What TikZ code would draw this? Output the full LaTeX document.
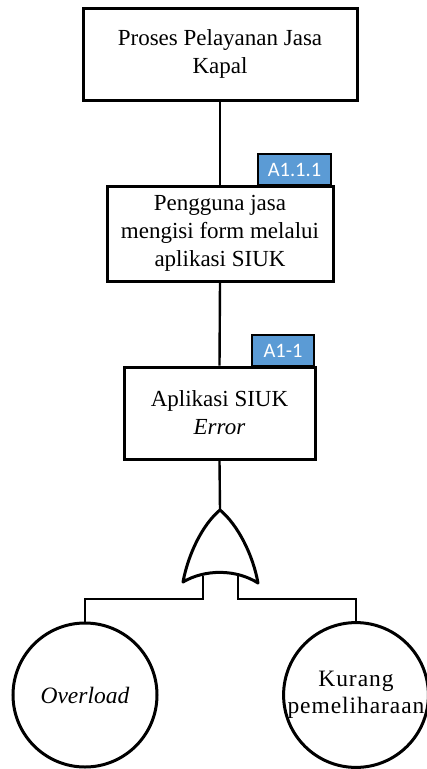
\documentclass[tikz,border=0pt]{standalone}
\usepackage{fontspec}
\setmainfont{Liberation Serif}
\newfontfamily\tagfont{Carlito}
\newfontfamily\widefont[LetterSpace=4]{Liberation Serif}
\definecolor{tagblue}{HTML}{5B9BD5}
\begin{document}
\begin{tikzpicture}[x=1pt,y=-1pt,
  eventbox/.style={draw,line width=3pt,rectangle,align=center,inner sep=0pt,
    font=\fontsize{23}{28}\selectfont},
  tagbox/.style={draw,line width=1.8pt,fill=tagblue,text=white,inner sep=0pt,
    font=\tagfont\fontsize{20.5}{22}\selectfont},
  basic/.style={draw,circle,line width=3pt,inner sep=0pt,minimum size=144pt,align=center,
    font=\fontsize{23.5}{27}\selectfont},
  wire/.style={line width=2.4pt},
  gateline/.style={line width=3pt,line join=round}]
\useasboundingbox (0,0) rectangle (427,769);

% events
\node[eventbox,minimum width=274pt,minimum height=92pt] (top) at (220,54) {Proses Pelayanan Jasa\\Kapal};
\node[eventbox,minimum width=226pt,minimum height=95pt] (mid) at (220,233.5) {Pengguna jasa\\mengisi form melalui\\aplikasi SIUK};
\node[eventbox,minimum width=191pt,minimum height=92pt] (err) at (219.5,413) {Aplikasi SIUK\\\textit{Error}};

% transfer tags
\node[tagbox,minimum width=73pt,minimum height=31pt,anchor=south] (tagA) at (294.5,186) {A1.1.1};
\node[tagbox,minimum width=62pt,minimum height=31pt,anchor=south] (tagB) at (283,367) {A1-1};

% connectors between events
\draw[wire] (top.south) -- (mid.north);
\draw[wire] (mid.south) -- (err.north);

% OR gate
\coordinate (gtop) at (220,510);
\coordinate (gl) at (183,582);
\coordinate (gr) at (258,583);
\coordinate (inL) at (203,576);
\coordinate (inR) at (238,576);
\draw[gateline,fill=white] (gtop) .. controls (202,525) and (188,555) .. (gl)
  .. controls (205,569) and (236,569) .. (gr)
  .. controls (253,555) and (238,525) .. (gtop) -- cycle;
\draw[wire] (err.south) -- (gtop);

% basic events
\node[basic] (ovl) at (85,695) {\textit{Overload}};
\node[basic,minimum size=142pt] (krg) at (356,695) {\widefont Kurang\\\widefont pemeliharaan};

% gate inputs
\coordinate (jL) at (203,599);
\coordinate (jR) at (238,599);
\draw[wire] (inL) -- (jL) -| (ovl.north);
\draw[wire] (inR) -- (jR) -| (krg.north);
\end{tikzpicture}
\end{document}
